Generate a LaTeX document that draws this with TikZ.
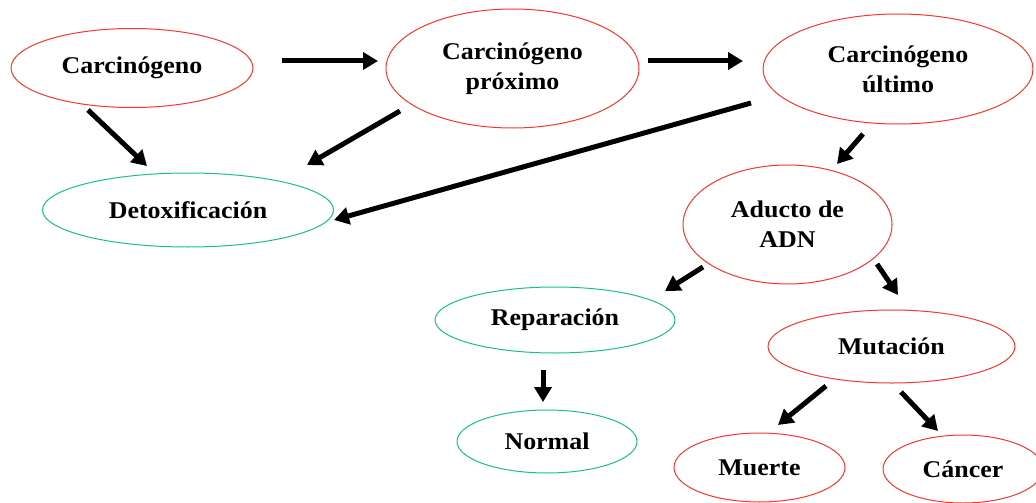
\documentclass[tikz,border=0pt]{standalone}
\usepackage{fontspec}
\setmainfont{Liberation Serif}[FakeStretch=1.08]
\usetikzlibrary{arrows.meta,shapes.geometric}
\definecolor{ered}{RGB}{245,55,45}
\definecolor{egreen}{RGB}{25,190,140}
\tikzset{
  bub/.style={ellipse, draw, line width=1pt, inner sep=0pt, align=center,
    font=\fontsize{24}{30}\selectfont\bfseries},
  redbub/.style={bub, draw=ered},
  greenbub/.style={bub, draw=egreen},
  arr/.style={line width=5pt, -{Triangle[length=15pt,width=17pt]}, black}
}
\begin{document}
\begin{tikzpicture}[x=1pt,y=-1pt]
\useasboundingbox (0,0) rectangle (1036,503);
\clip (0,0) rectangle (1036,503);
% nodes
\node[redbub, minimum width=242pt, minimum height=79pt] (carc) at (132,68) {Carcinógeno};
\node[redbub, minimum width=253pt, minimum height=119pt] (prox) at (512.5,68.5) {Carcinógeno\\próximo};
\node[redbub, minimum width=270pt, minimum height=110pt] (ult) at (898,69) {Carcinógeno\\último};
\node[greenbub, minimum width=291pt, minimum height=74pt] (detox) at (188,210) {Detoxificación};
\node[redbub, minimum width=209pt, minimum height=119pt] (aduct) at (787.5,224.5) {Aducto de\\ADN};
\node[greenbub, minimum width=240pt, minimum height=66pt] (rep) at (555,320) {Reparación};
\node[redbub, minimum width=247pt, minimum height=73pt] (mut) at (891.5,346.5) {Mutación};
\node[greenbub, minimum width=180pt, minimum height=63pt] (norm) at (547,441.5) {Normal};
\node[redbub, minimum width=171pt, minimum height=69pt] (muer) at (759.5,467.5) {Muerte};
\node[redbub, minimum width=160pt, minimum height=68pt] (canc) at (963,469) {Cáncer};
% arrow end points
\coordinate (a1s) at (282,61);  \coordinate (a1e) at (378,61);
\coordinate (a2s) at (648,61);  \coordinate (a2e) at (743,61);
\coordinate (a3s) at (88,110);  \coordinate (a3e) at (147,166);
\coordinate (a4s) at (400,111); \coordinate (a4e) at (307,165);
\coordinate (a5s) at (751,103); \coordinate (a5e) at (334,220);
\coordinate (a6s) at (863,134); \coordinate (a6e) at (837,164);
\coordinate (a7s) at (703,267); \coordinate (a7e) at (665,291);
\coordinate (a8s) at (877,264); \coordinate (a8e) at (898,295);
\coordinate (a9s) at (543,370); \coordinate (a9e) at (543,402);
\coordinate (a10s) at (826,386); \coordinate (a10e) at (778,425);
\coordinate (a11s) at (901,392); \coordinate (a11e) at (938,431);
% connectors
\draw[arr] (a1s) -- (a1e);
\draw[arr] (a2s) -- (a2e);
\draw[arr] (a3s) -- (a3e);
\draw[arr] (a4s) -- (a4e);
\draw[arr] (a5s) -- (a5e);
\draw[arr] (a6s) -- (a6e);
\draw[arr] (a7s) -- (a7e);
\draw[arr] (a8s) -- (a8e);
\draw[arr] (a9s) -- (a9e);
\draw[arr] (a10s) -- (a10e);
\draw[arr] (a11s) -- (a11e);
\end{tikzpicture}
\end{document}
